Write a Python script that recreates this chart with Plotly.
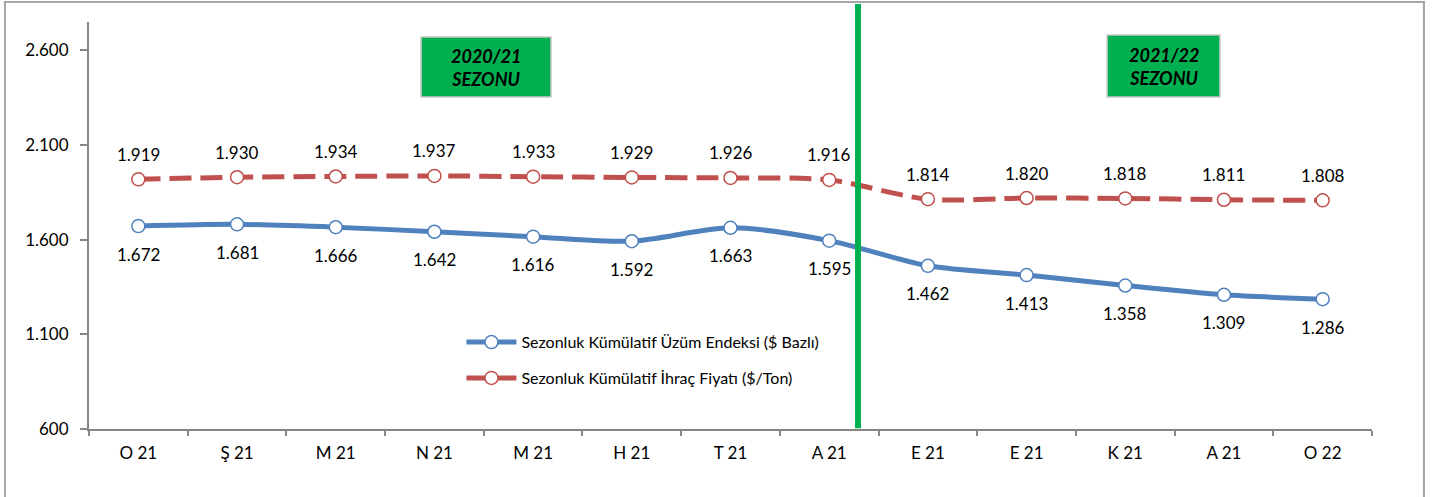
import plotly.graph_objects as go

months = ["O 21", "Ş 21", "M 21", "N 21", "M 21", "H 21", "T 21", "A 21",
          "E 21", "E 21", "K 21", "A 21", "O 22"]
uzum_endeksi = [1672, 1681, 1666, 1642, 1616, 1592, 1663, 1595,
                1462, 1413, 1358, 1309, 1286]
ihrac_fiyati = [1919, 1930, 1934, 1937, 1933, 1929, 1926, 1916,
                1814, 1820, 1818, 1811, 1808]
y_ticks = [600, 1100, 1600, 2100, 2600]
season_labels = ["2020/21<br>SEZONU", "2021/22<br>SEZONU"]

BLUE = "#4F81BD"
RED = "#C0504D"
GREEN = "#00B050"
AXIS = "#868686"
FONT = "Lato, 'Open Sans', sans-serif"


def fmt(v):
    return f"{v:,}".replace(",", ".")


x = list(range(len(months)))

fig = go.Figure()
fig.add_trace(go.Scatter(
    x=x, y=uzum_endeksi, name="Sezonluk Kümülatif Üzüm Endeksi ($ Bazlı)",
    mode="lines+markers", legendgroup="a",
    line=dict(color=BLUE, width=5, shape="spline", smoothing=0.8),
    marker=dict(symbol="circle", size=13, color="white",
                line=dict(color=BLUE, width=1.5)),
    cliponaxis=False,
))
fig.add_trace(go.Scatter(
    x=x, y=ihrac_fiyati, name="Sezonluk Kümülatif İhraç Fiyatı ($/Ton)",
    mode="lines+markers", legendgroup="b",
    line=dict(color=RED, width=5, dash="22px,9px", shape="spline", smoothing=0.8),
    marker=dict(symbol="circle", size=13, color="white",
                line=dict(color=RED, width=1.5)),
    cliponaxis=False,
))

shapes = [
    # outer chart frame
    dict(type="rect", xref="paper", yref="paper", x0=-0.0655, x1=1.0405,
         y0=-0.2, y1=1.049, line=dict(color="#A6A6A6", width=2), layer="below"),
    # season divider
    dict(type="line", xref="paper", yref="paper", x0=0.5994, x1=0.5994,
         y0=0.002, y1=1.044, line=dict(color=GREEN, width=6)),
    # season boxes
    dict(type="rect", xref="paper", yref="paper", x0=0.2588, x1=0.3601,
         y0=0.8157, y1=0.9631, fillcolor=GREEN, line=dict(color="#C8C8C8", width=1.5)),
    dict(type="rect", xref="paper", yref="paper", x0=0.7935, x1=0.8815,
         y0=0.8157, y1=0.9680, fillcolor=GREEN, line=dict(color="#C8C8C8", width=1.5)),
]

annotations = [
    dict(xref="paper", yref="paper", x=(0.2588 + 0.3601) / 2, y=(0.8157 + 0.9631) / 2,
         xanchor="center", yanchor="middle",
         text=f"<b><i>{season_labels[0]}</i></b>", showarrow=False,
         font=dict(family=FONT, size=18, color="#000000")),
    dict(xref="paper", yref="paper", x=(0.7935 + 0.8815) / 2, y=(0.8157 + 0.9680) / 2,
         xanchor="center", yanchor="middle",
         text=f"<b><i>{season_labels[1]}</i></b>", showarrow=False,
         font=dict(family=FONT, size=18, color="#000000")),
]

# data labels
for xi, v in zip(x, uzum_endeksi):
    annotations.append(dict(x=xi, y=v, xref="x", yref="y", text=fmt(v),
                            showarrow=False, xanchor="center", yanchor="middle",
                            yshift=-28, font=dict(family=FONT, size=17, color="#000000")))
for xi, v in zip(x, ihrac_fiyati):
    annotations.append(dict(x=xi, y=v, xref="x", yref="y", text=fmt(v),
                            showarrow=False, xanchor="center", yanchor="middle",
                            yshift=25, font=dict(family=FONT, size=17, color="#000000")))

fig.update_layout(
    width=1437, height=497,
    margin=dict(l=89, r=65, t=22, b=68),
    paper_bgcolor="white", plot_bgcolor="white",
    font=dict(family=FONT, size=17, color="#000000"),
    shapes=shapes, annotations=annotations,
    showlegend=True,
    legend=dict(x=0.2903, y=0.255, xanchor="left", yanchor="top",
                bgcolor="rgba(0,0,0,0)", font=dict(family=FONT, size=16, color="#000000"),
                itemwidth=50, tracegroupgap=12),
    xaxis=dict(
        range=[-0.5, len(months) - 0.5], tickvals=x, ticktext=months,
        showgrid=False, zeroline=False, showline=True, linecolor=AXIS, linewidth=2,
        ticks="", ticklabelstandoff=8,
        tickfont=dict(family=FONT, size=17, color="#000000"),
        minor=dict(tickvals=[i - 0.5 for i in range(len(months) + 1)],
                   ticks="outside", ticklen=5, tickcolor=AXIS, tickwidth=1.5,
                   showgrid=False),
    ),
    yaxis=dict(
        range=[600, 2750], tickvals=y_ticks, ticktext=[fmt(v) for v in y_ticks],
        showgrid=False, zeroline=False, showline=True, linecolor=AXIS, linewidth=2,
        ticks="outside", ticklen=7, tickcolor=AXIS, tickwidth=1.5,
        ticklabelstandoff=8,
        tickfont=dict(family=FONT, size=17, color="#000000"),
    ),
)

fig.write_html("out.html", config={"displayModeBar": False},
               post_script="document.body.style.margin='0';")
